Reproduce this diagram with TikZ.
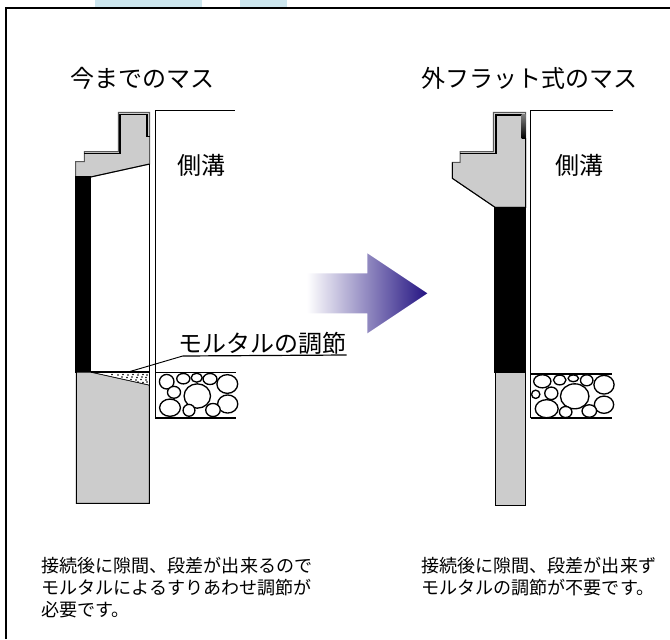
\documentclass[tikz,border=0pt]{standalone}
\usepackage{fontspec}
\setmainfont{Noto Sans CJK JP}
\usetikzlibrary{arrows.meta}
\definecolor{wallgrey}{RGB}{204,204,204}
\definecolor{arrowblue}{RGB}{36,20,130}
\definecolor{tabblue}{RGB}{205,230,238}
\tikzset{
  titlelabel/.style={font=\fontsize{18}{22}\selectfont,inner sep=0pt},
  notelabel/.style={font=\fontsize{13.55}{16.3}\selectfont,align=left,inner sep=0pt,anchor=north west},
  stone/.style={draw,line width=1pt,fill=white},
  wall/.style={draw,fill=wallgrey,line width=0.75pt},
  capwall/.style={draw=black!65,fill=wallgrey,line width=0.75pt},
  block/.style={draw,fill=black}
}
\begin{document}
\begin{tikzpicture}[x=0.75pt,y=-0.75pt]
\useasboundingbox (0,0) rectangle (670,639);
\fill[tabblue] (95,0) rectangle (202,8);
\fill[tabblue] (240,0) rectangle (287,8);
\draw[line width=0.9pt] (6,639) -- (6,8) -- (670,8);
% left section
\draw[capwall] (118.3,112.3) -- (149.7,112.3) -- (149.7,164) -- (90.7,177) -- (75.7,177) -- (75.7,161.7) -- (84.3,161.7) -- (84.3,151.7) -- (118.3,151.7) -- cycle;
\draw[line width=0.9pt] (84.3,153.5) -- (120,153.5) -- (120,114.5) -- (147,114.5) -- (147,136.7) -- (149.7,136.7);
\draw[line width=0.75pt] (149.7,164) -- (90.7,177);
\draw[block] (75.7,176) rectangle (90.7,372);
\draw[wall] (76.3,372) -- (90.7,372) -- (149.3,385) -- (149.3,503.3) -- (76.3,503.3) -- cycle;
\fill[white] (90.7,372) -- (149.3,372) -- (149.3,385) -- cycle;
\foreach \dx/\dy in {112/374.5,118/375,123/374.5,128/375,133/374.5,138/375,143/374.5,147/375,122/377,127/377.5,132/377,137/377.5,142/377,146/377.5,131/379.5,136/380,141/379.5,146/380,138/382,143/382.5,147/382}
  \fill (\dx,\dy) circle [radius=0.65pt];
\draw (90.7,372) -- (149.3,385);
\draw[line width=1.1pt] (90.7,372) -- (149.7,372);
\draw[line width=0.6pt] (149.7,164) -- (149.7,385);
\draw (155,418) -- (155,110.7) -- (235,110.7);
\draw[line width=1.3pt] (155,372.5) -- (236,372.5);
\draw[line width=0.9pt] (155,418) -- (236,418);
\foreach \cx/\cy/\rx/\ry in {166.7/381.7/7/7,183.3/378.7/6.3/5,196.7/377.7/5.3/4.3,210/379/6.7/5.3,227.3/384/10/9,174/392.3/6.3/5.7,197.3/396/12.7/11.7,227.7/404/9.7/8.7,170/407.7/10/8.3,189/410.3/5.7/5.7,213/410/7/6.3}
  \draw[stone] (\cx,\cy) ellipse [x radius=\rx*0.78pt,y radius=\ry*0.78pt];
% right section
\draw[capwall] (493.3,112.3) -- (525.7,112.3) -- (525.7,207.3) -- (495,207.3) -- (452.3,178.3) -- (452.3,162.3) -- (460,162.3) -- (460,151.7) -- (493.3,151.7) -- cycle;
\draw[line width=0.9pt] (460,153.7) -- (496,153.7) -- (496,115) -- (523,115);
\draw[line width=0.75pt] (525.7,138) -- (525.7,207.3) -- (495,207.3) -- (452.3,178.3) -- (452.3,162.3);
\shade[top color=black!50,bottom color=black] (521.7,114) rectangle (525.7,138.3);
\draw[block] (494.5,207.3) rectangle (525.7,372.7);
\draw[wall] (495.3,372.7) rectangle (525.3,505);
\draw (530.7,418) -- (530.7,110.7) -- (613,110.7);
\draw[line width=1.3pt] (530.7,374) -- (612,374);
\draw[line width=0.9pt] (530.7,418) -- (612,418);
\foreach \cx/\cy/\rx/\ry in {542.3/381.3/8.3/6.3,559.7/380/6/4.7,573.3/378.3/5/3.3,586.7/380.3/6/5.3,604/384.7/9.7/9,535.7/394.3/4/4,551.3/393.3/6.3/6,574.7/396.3/13.7/12,604/404.7/9.3/8.3,546.7/408.7/11/8.7,565.7/412/6/5.3,589.3/411/7/6}
  \draw[stone] (\cx,\cy) ellipse [x radius=\rx*0.78pt,y radius=\ry*0.78pt];
% big arrow
\shade[left color=white,right color=arrowblue] (306.7,273.3) -- (367.3,273.3) -- (367.3,253.3) -- (427.3,293.3) -- (367.3,333.3) -- (367.3,313.3) -- (306.7,313.3) -- cycle;
% labels
\node[titlelabel] (oldtitle) at (142.5,78) {今までのマス};
\node[titlelabel] (newtitle) at (529,78) {外フラット式のマス};
\node[titlelabel] (oldditch) at (201.5,165) {側溝};
\node[titlelabel] (newditch) at (579.5,165) {側溝};
\node[titlelabel,anchor=south west] (mortar) at (178,355) {モルタルの調節};
\coordinate (mortartip) at (130,371.5);
\coordinate (mortarbend) at (182.7,356);
\draw[line width=0.9pt] (mortar.south east) -- (mortarbend);
\draw[line width=0.7pt,-{Straight Barb[left,length=5pt,width=6pt]}] (mortarbend) -- (mortartip);
\node[notelabel] (oldnote) at (41,557) {接続後に隙間、段差が出来るので\\モルタルによるすりあわせ調節が\\必要です。};
\node[notelabel] (newnote) at (421,557) {接続後に隙間、段差が出来ず\\モルタルの調節が不要です。};
\end{tikzpicture}
\end{document}
